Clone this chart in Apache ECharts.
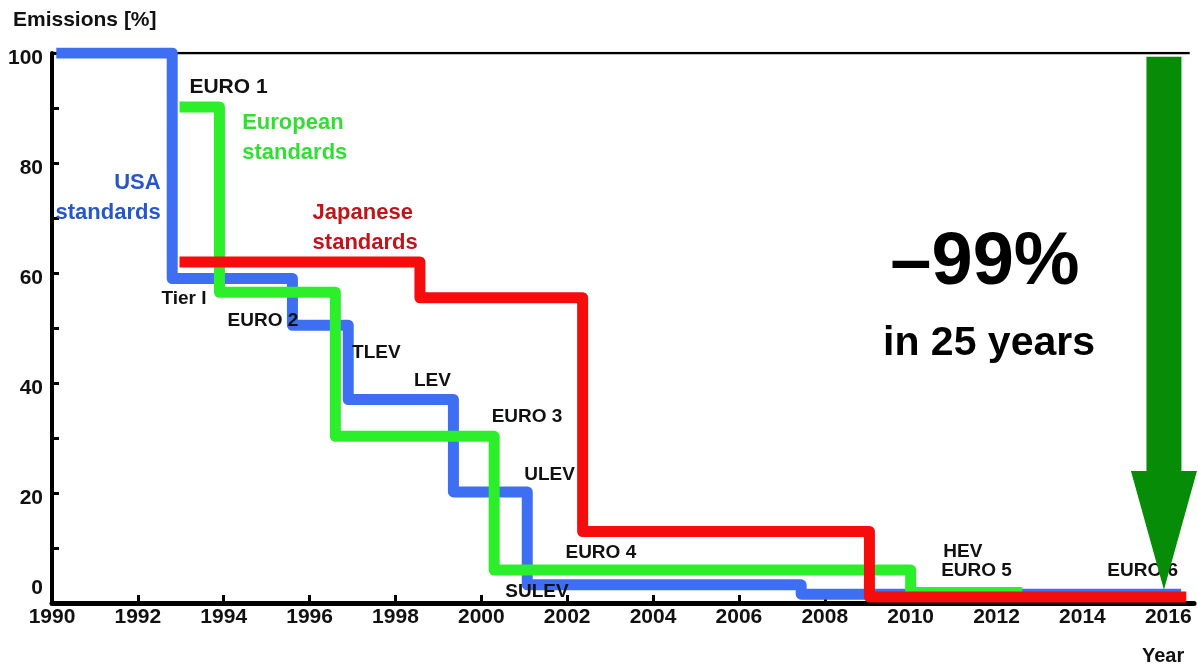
<!DOCTYPE html>
<html>
<head>
<meta charset="utf-8">
<script src="https://cdn.jsdelivr.net/npm/echarts@6/dist/echarts.min.js"></script>
<style>
  html, body { margin: 0; padding: 0; background: #fff; }
  #chart { width: 1198px; height: 666px; }
</style>
</head>
<body>
<div id="chart"></div>
<script>
// ---- data ----
const yearTicks = [1990, 1992, 1994, 1996, 1998, 2000, 2002, 2004, 2006, 2008, 2010, 2012, 2014, 2016];
const yTicks = [0, 20, 40, 60, 80, 100];

// step lines: [year, emissions %]
const usa = [[1990.1, 100], [1992.8, 100], [1992.8, 59], [1995.6, 59], [1995.6, 50.5], [1996.9, 50.5],
  [1996.9, 37], [1999.35, 37], [1999.35, 20.2], [2001.07, 20.2], [2001.07, 3.3], [2007.45, 3.3],
  [2007.45, 1.6], [2016.3, 1.6]];
const europe = [[1992.97, 90.2], [1993.9, 90.2], [1993.9, 56.5], [1996.6, 56.5], [1996.6, 30.3],
  [2000.3, 30.3], [2000.3, 6], [2010.0, 6], [2010.0, 1.9], [2012.6, 1.9]];
const japan = [[1992.97, 62], [1998.57, 62], [1998.57, 55.5], [2002.36, 55.5], [2002.36, 13],
  [2009.04, 13], [2009.04, 1.1], [2016.42, 1.1]];
const topLine = [[1990, 100], [2016.5, 100]];

// arrow: [year, top %, tip %, head base %]
const arrow = [[2015.9, 99.3, 2.4, 24]];

// annotations: [text, year, %, kind]
const notes = [
  ['EURO 1', 1993.2, 93.8, 'big'],
  ['European\nstandards', 1994.43, 84.5, 'eu'],
  ['USA\nstandards', 1992.53, 73.6, 'us'],
  ['Japanese\nstandards', 1996.07, 68.2, 'jp'],
  ['Tier I', 1992.55, 55.3, 'small'],
  ['EURO 2', 1994.09, 51.3, 'small'],
  ['TLEV', 1996.99, 45.5, 'small'],
  ['LEV', 1998.43, 40.4, 'small'],
  ['EURO 3', 2000.24, 33.8, 'small'],
  ['ULEV', 2001.0, 23.3, 'small'],
  ['EURO 4', 2001.96, 9.1, 'small'],
  ['SULEV', 2000.56, 2.0, 'small'],
  ['HEV', 2010.76, 9.3, 'small'],
  ['EURO 5', 2010.71, 5.8, 'small'],
  ['EURO 6', 2014.58, 5.8, 'small']
];

// ---- styling ----
const FONT = '"Liberation Sans", Arial, sans-serif';
const kindStyle = {
  big:   { color: '#111111', fontSize: 21, align: 'left' },
  small: { color: '#111111', fontSize: 19, align: 'left' },
  eu:    { color: '#33dd33', fontSize: 22, align: 'left', lineHeight: 30 },
  us:    { color: '#2656cc', fontSize: 22, align: 'right', lineHeight: 30 },
  jp:    { color: '#c0141a', fontSize: 22, align: 'left', lineHeight: 30 }
};

const chart = echarts.init(document.getElementById('chart'), null, { renderer: 'canvas' });

function stepSeries(name, data, color, z) {
  return {
    name, type: 'line', data, z, silent: true, symbol: 'none', showSymbol: false,
    lineStyle: { color, width: 11, cap: 'butt', join: 'round' },
    animation: false
  };
}

const option = {
  animation: false,
  backgroundColor: '#fff',
  grid: { left: 52, right: 4, top: 53, bottom: 63, containLabel: false, outerBoundsMode: 'none' },
  xAxis: {
    type: 'value', min: 1990, max: 2016.6, interval: 2,
    axisLine: { show: true, onZero: false, lineStyle: { color: '#000', width: 5 } },
    axisTick: { show: true, inside: true, length: 8, lineStyle: { color: '#000', width: 3 },
      customValues: yearTicks.slice(1) },
    axisLabel: { show: true, customValues: yearTicks, margin: 4, color: '#111',
      fontFamily: FONT, fontWeight: 'bold', fontSize: 21, formatter: v => String(v) },
    splitLine: { show: false }
  },
  yAxis: {
    type: 'value', min: 0, max: 100, interval: 10,
    axisLine: { show: true, lineStyle: { color: '#000', width: 4 } },
    axisTick: { show: true, inside: true, length: 7, lineStyle: { color: '#000', width: 3 } },
    axisLabel: {
      show: true, margin: 9, color: '#111', fontFamily: FONT, fontWeight: 'bold', fontSize: 21,
      formatter: v => (yTicks.indexOf(v) < 0 ? '' : (v === 0 ? '{z|0}' : '{n|' + v + '}')),
      rich: {
        n: { fontFamily: FONT, fontWeight: 'bold', fontSize: 21, lineHeight: 21, color: '#111', padding: [10, 0, 0, 0] },
        z: { fontFamily: FONT, fontWeight: 'bold', fontSize: 21, lineHeight: 21, color: '#111', padding: [0, 0, 30, 0] }
      }
    },
    splitLine: { show: false }
  },
  graphic: [
    { type: 'text', left: 13, top: 10, z: 10,
      style: { text: 'Emissions [%]', fill: '#111', font: 'bold 21px ' + FONT } },
    { type: 'text', left: 1142, top: 646, z: 10,
      style: { text: 'Year', fill: '#111', font: 'bold 20px ' + FONT } },
    { type: 'text', x: 985, y: 264, z: 10,
      style: { text: '\u201399%', fill: '#000', font: 'bold 74px ' + FONT, textAlign: 'center', textVerticalAlign: 'middle' } },
    { type: 'text', x: 989, y: 344, z: 10,
      style: { text: 'in 25 years', fill: '#000', font: 'bold 41px ' + FONT, textAlign: 'center', textVerticalAlign: 'middle' } }
  ],
  series: [
    { type: 'line', data: topLine, z: 1, silent: true, symbol: 'none',
      lineStyle: { color: '#000', width: 2.5 }, animation: false },
    stepSeries('USA', usa, '#3e6ff2', 2),
    stepSeries('Europe', europe, '#2bef2b', 3),
    stepSeries('Japan', japan, '#f50c0c', 4),
    {
      type: 'scatter', z: 5, silent: true, symbolSize: 1,
      itemStyle: { opacity: 1, color: 'rgba(0,0,0,0)' },
      data: notes.map(n => {
        const s = kindStyle[n[3]];
        return {
          name: n[0], value: [n[1], n[2]],
          label: {
            show: true, position: 'inside', formatter: '{b}', align: s.align, verticalAlign: 'middle',
            color: s.color, opacity: 1, fontFamily: FONT, fontWeight: 'bold', fontSize: s.fontSize,
            lineHeight: s.lineHeight || s.fontSize
          }
        };
      }),
      animation: false
    },
    {
      type: 'custom', z: 6, silent: true, clip: false, data: arrow,
      renderItem: (params, api) => {
        const top = api.coord([api.value(0), api.value(1)]);
        const tip = api.coord([api.value(0), api.value(2)]);
        const base = api.coord([api.value(0), api.value(3)]);
        const cx = top[0], sh = 17.5, hh = 33;
        return {
          type: 'polygon',
          shape: { points: [[cx - sh, top[1]], [cx + sh, top[1]], [cx + sh, base[1]], [cx + hh, base[1]],
            [cx, tip[1]], [cx - hh, base[1]], [cx - sh, base[1]]] },
          style: { fill: '#078c07' }
        };
      },
      animation: false
    }
  ]
};
chart.setOption(option);
</script>
</body>
</html>
